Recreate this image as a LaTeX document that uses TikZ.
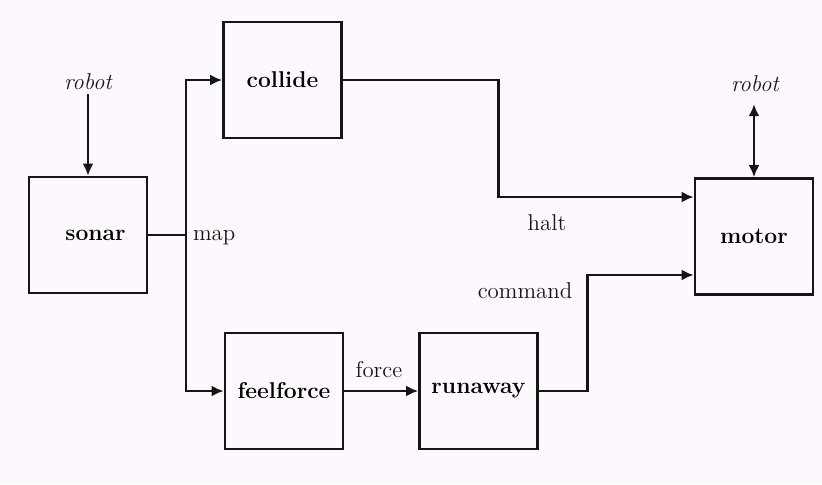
\documentclass[tikz,border=0pt]{standalone}
\usepackage{tikz}
\usetikzlibrary{arrows.meta,positioning,calc}
\definecolor{sketchInk}{HTML}{151515}
\definecolor{sketchPaper}{HTML}{FDF8FD}

\begin{document}
\begin{tikzpicture}[x=0.02cm,y=-0.02cm,font=\fontsize{13}{15}\selectfont,
    blk/.style={draw=sketchInk,line width=1.5pt,minimum width=2.36cm,minimum height=2.32cm,
                align=center,inner sep=2pt,font=\fontsize{13}{15}\selectfont\bfseries},
    arr/.style={-{Latex[length=2.4mm,width=2.2mm]},sketchInk,line width=1.5pt},
    darr/.style={{Latex[length=2.4mm,width=2.2mm]}-{Latex[length=2.4mm,width=2.2mm]},sketchInk,line width=1.5pt},
    wire/.style={sketchInk,line width=1.5pt},
    sig/.style={text=sketchInk,inner sep=1pt},
    ext/.style={text=sketchInk,inner sep=1pt,font=\fontsize{13}{15}\selectfont\itshape}]

  \fill[sketchPaper] (0,0) rectangle (822,484);
  \useasboundingbox (0,0) rectangle (822,484);

  \node[blk] (sonar)     at (88,235)    {\hspace*{0.3cm}sonar};
  \node[blk] (collide)   at (282.5,80)  {collide};
  \node[blk] (feelforce) at (284,391)   {feelforce};
  \node[blk] (runaway)   at (478.5,391) {runaway};
  \node[blk] (motor)     at (754,236.5) {motor};

  \node[ext] (rin)  at (88,82)  {robot};
  \node[ext] (rout) at (755,84) {robot};

  \coordinate (mapj) at (186,235);

  \draw[arr] (rin.south) ++(0,2) -- (sonar.north);
  \draw[darr] (motor.north) -- ([yshift=-0.2cm]motor.north |- rout.south);

  % map fans out to collide and feelforce
  \draw[wire] (sonar.east) -- (mapj);
  \draw[arr] (mapj) |- (collide.west);
  \draw[arr] (mapj) |- (feelforce.west);
  \node[sig,anchor=west] (map) at ([xshift=0.1cm,yshift=-0.05cm]mapj) {map};

  \draw[arr] (feelforce) -- (runaway);
  \node[sig] (force) at (379,370) {force};

  \draw[arr] (collide.east) -- ++(156,0) |- ([yshift=0.79cm]motor.west);
  \node[sig] (halt) at (547,223) {halt};

  \draw[arr] (runaway.east) -- ++(49,0) |- ([yshift=-0.77cm]motor.west);
  \node[sig] (command) at (525,291) {command};
\end{tikzpicture}
\end{document}
